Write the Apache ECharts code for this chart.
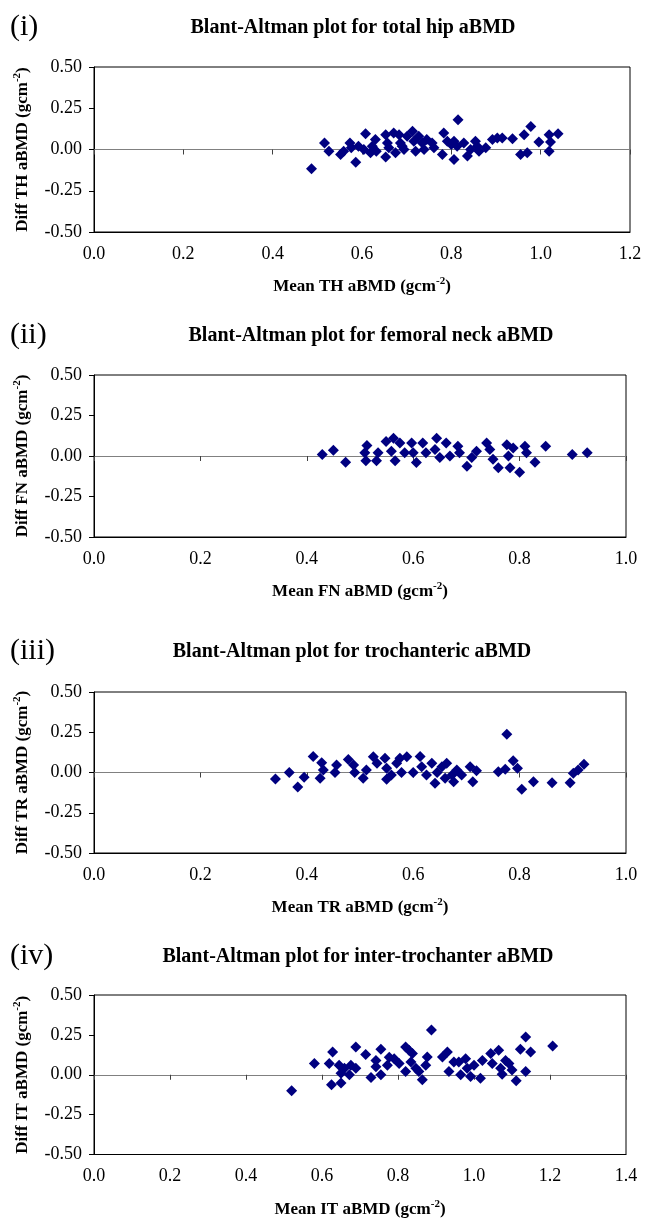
<!DOCTYPE html>
<html lang="en">
<head>
    <meta charset="utf-8">
    <title>Blant-Altman plots for hip aBMD</title>
    <script src="https://cdn.jsdelivr.net/npm/echarts@6/dist/echarts.min.js"></script>
    <style>html, body { margin: 0; padding: 0; background: #fff; }</style>
</head>

<body>
<div id="main" style="width: 651px;height:1219px"></div>

<script type="text/javascript">
    // panel labels, titles and site codes
    var panelLabels = ['(i)', '(ii)', '(iii)', '(iv)'];
    var panelTitles = [
        'Blant-Altman plot for total hip aBMD',
        'Blant-Altman plot for femoral neck aBMD',
        'Blant-Altman plot for trochanteric aBMD',
        'Blant-Altman plot for inter-trochanter aBMD'
    ];
    var siteCodes = ['TH', 'FN', 'TR', 'IT'];
    var xMax = [1.2, 1.0, 1.0, 1.4];

    // (i) total hip: mean, difference
    var thMean = [0.487, 0.516, 0.526, 0.552, 0.559, 0.573, 0.576, 0.586, 0.608, 0.604, 0.619, 0.630, 0.623, 0.653, 0.653, 0.657, 0.660, 0.671, 0.675, 0.683,
        0.686, 0.694, 0.701, 0.713, 0.716, 0.720, 0.727, 0.735, 0.739, 0.757, 0.761, 0.780, 0.783, 0.791, 0.806, 0.815, 0.806, 0.813, 0.828, 0.836,
        0.843, 0.854, 0.862, 0.877, 0.892, 0.903, 0.914, 0.937, 0.955, 0.963, 0.970, 0.978, 0.996, 1.019, 1.022, 1.019, 1.039,
        0.745, 0.690, 0.800, 0.858, 0.632, 0.592];
    var thDiff = [-0.116, 0.04, -0.01, -0.03, -0.01, 0.04, 0.01, -0.077, 0.095, 0.0, -0.02, 0.06, 0.02, 0.09, -0.045, 0.04, 0.01, 0.10, -0.02, 0.09,
        0.04, 0.0, 0.08, 0.11, 0.05, -0.01, 0.08, 0.04, 0.0, 0.04, 0.01, -0.03, 0.10, 0.05, -0.06, 0.18, 0.05, 0.02, 0.04, -0.04,
        0.0, 0.05, -0.01, 0.01, 0.06, 0.07, 0.07, 0.065, -0.03, 0.09, -0.02, 0.14, 0.045, 0.09, 0.045, -0.01, 0.095,
        0.06, 0.02, 0.03, 0.02, -0.01, 0.02];

    // (ii) femoral neck
    var fnMean = [0.429, 0.450, 0.473, 0.513, 0.509, 0.511, 0.531, 0.534, 0.549, 0.563, 0.559, 0.566, 0.575, 0.584, 0.597, 0.600, 0.606, 0.618, 0.624, 0.644,
        0.641, 0.650, 0.662, 0.669, 0.684, 0.687, 0.701, 0.710, 0.719, 0.738, 0.744, 0.750, 0.760, 0.776, 0.779, 0.782, 0.788, 0.800, 0.810, 0.813,
        0.829, 0.849, 0.899, 0.927];
    var fnDiff = [0.01, 0.036, -0.038, 0.065, 0.02, -0.03, -0.03, 0.02, 0.09, 0.11, 0.03, -0.03, 0.08, 0.02, 0.08, 0.02, -0.04, 0.08, 0.02, 0.11,
        0.04, -0.01, 0.08, 0.0, 0.06, 0.02, -0.063, -0.01, 0.03, 0.08, 0.04, -0.02, -0.073, 0.07, 0.0, -0.073, 0.05, -0.10, 0.06, 0.02,
        -0.038, 0.06, 0.01, 0.02];

    // (iii) trochanteric
    var trMean = [0.341, 0.367, 0.383, 0.395, 0.412, 0.425, 0.428, 0.431, 0.453, 0.456, 0.478, 0.488, 0.490, 0.506, 0.512, 0.525, 0.532, 0.547, 0.550, 0.550,
        0.559, 0.569, 0.575, 0.578, 0.588, 0.600, 0.613, 0.616, 0.625, 0.635, 0.641, 0.645, 0.654, 0.660, 0.663, 0.673, 0.676, 0.682, 0.691, 0.707,
        0.712, 0.719, 0.760, 0.773, 0.776, 0.788, 0.796, 0.804, 0.826, 0.861, 0.895, 0.901, 0.910, 0.921];
    var trDiff = [-0.04, 0.0, -0.09, -0.03, 0.10, -0.036, 0.06, 0.015, 0.0, 0.046, 0.08, 0.046, 0.0, -0.036, 0.015, 0.098, 0.057, 0.088, -0.042, 0.026,
        -0.015, 0.057, 0.088, 0.0, 0.098, 0.0, 0.10, 0.036, -0.015, 0.057, -0.067, 0.0, 0.036, -0.036, 0.057, -0.015, -0.057, 0.015, -0.015, 0.036,
        -0.057, 0.011, 0.005, 0.02, 0.238, 0.073, 0.026, -0.104, -0.057, -0.063, -0.063, -0.005, 0.015, 0.052];

    // (iv) inter-trochanter
    var itMean = [0.520, 0.580, 0.619, 0.628, 0.625, 0.650, 0.645, 0.650, 0.659, 0.672, 0.676, 0.689, 0.689, 0.715, 0.729, 0.742, 0.742, 0.755, 0.755, 0.772,
        0.777, 0.790, 0.803, 0.820, 0.820, 0.829, 0.834, 0.838, 0.847, 0.855, 0.864, 0.873, 0.877, 0.888, 0.917, 0.930, 0.934, 0.947, 0.960, 0.965,
        0.978, 0.982, 0.991, 1.000, 1.017, 1.022, 1.044, 1.048, 1.065, 1.070, 1.074, 1.083, 1.092, 1.100, 1.111, 1.122, 1.136, 1.136, 1.149, 1.207];
    var itDiff = [-0.10, 0.071, 0.071, 0.143, -0.063, -0.052, 0.06, 0.009, 0.04, 0.0, 0.06, 0.174, 0.04, 0.127, -0.017, 0.09, 0.05, 0.16, 0.0, 0.06,
        0.11, 0.10, 0.071, 0.02, 0.174, 0.153, 0.08, 0.133, 0.04, 0.02, -0.032, 0.06, 0.112, 0.281, 0.112, 0.143, 0.02, 0.08, 0.08, 0.0,
        0.10, 0.04, -0.011, 0.06, -0.022, 0.09, 0.133, 0.071, 0.153, 0.04, 0.003, 0.09, 0.071, 0.03, -0.038, 0.16, 0.236, 0.02, 0.143, 0.18];

    var means = [thMean, fnMean, trMean, itMean];
    var diffs = [thDiff, fnDiff, trDiff, itDiff];

    // layout
    var grids = [
        {left: 94, right: 21, top: 67, height: 165},
        {left: 94, right: 25, top: 375, height: 162},
        {left: 94, right: 25, top: 692, height: 161},
        {left: 94, right: 25, top: 995, height: 162}
    ];
    var titleY = [29, 337, 653, 958];
    var titleX = [353, 371, 352, 358];

    var font = "'Liberation Serif', 'Times New Roman', serif";
    var rich = {
        b: {fontFamily: font, fontWeight: 'bold', fontSize: 17, lineHeight: 22, color: '#000'},
        sup: {fontFamily: font, fontWeight: 'bold', fontSize: 11, lineHeight: 11, verticalAlign: 'top', color: '#000'}
    };

    var myChart = echarts.init(document.getElementById('main'));

    var option = {
        backgroundColor: '#fff',
        animation: false,
        title: [],
        grid: [],
        xAxis: [],
        yAxis: [],
        series: []
    };

    for (var i = 0; i < 4; i++) {
        option.title.push({
            text: panelLabels[i], left: 10, top: titleY[i] - 17, padding: 0,
            textStyle: {fontFamily: font, fontWeight: 'normal', fontSize: 30, color: '#000'}
        });
        option.title.push({
            text: panelTitles[i], left: titleX[i], top: titleY[i] - 11, padding: 0, textAlign: 'center',
            textStyle: {fontFamily: font, fontWeight: 'bold', fontSize: 20, color: '#000'}
        });

        option.grid.push({
            left: grids[i].left, right: grids[i].right, top: grids[i].top, height: grids[i].height,
            show: true, borderColor: '#000', borderWidth: 1, backgroundColor: '#fff'
        });

        // bottom axis carries the labels
        option.xAxis.push({
            type: 'value', gridIndex: i, position: 'bottom', min: 0, max: xMax[i], interval: 0.2,
            name: '{b|Mean ' + siteCodes[i] + ' aBMD (gcm}{sup|-2}{b|)}',
            nameLocation: 'middle', nameGap: 44,
            nameTextStyle: {rich: rich},
            axisLine: {onZero: false, lineStyle: {color: '#000', width: 1}},
            axisTick: {show: false},
            splitLine: {show: false},
            axisLabel: {
                margin: 13, fontFamily: font, fontSize: 18, color: '#000',
                formatter: function (v) { return v.toFixed(1); }
            }
        });
        // line through zero with ticks hanging below it
        option.xAxis.push({
            type: 'value', gridIndex: i, position: 'top', min: 0, max: xMax[i], interval: 0.2,
            axisLine: {onZero: true, lineStyle: {color: '#808080', width: 1}},
            axisTick: {show: true, inside: true, length: 5, lineStyle: {color: '#404040'}},
            axisLabel: {show: false},
            splitLine: {show: false}
        });

        option.yAxis.push({
            type: 'value', gridIndex: i, min: -0.5, max: 0.5, interval: 0.25,
            name: '{b|Diff ' + siteCodes[i] + ' aBMD (gcm}{sup|-2}{b|)}',
            nameLocation: 'middle', nameRotate: 90, nameGap: 60,
            nameTextStyle: {rich: rich},
            axisLine: {lineStyle: {color: '#000', width: 1}},
            axisTick: {show: true, length: 5, lineStyle: {color: '#000'}},
            splitLine: {show: false},
            axisLabel: {
                margin: 12, fontFamily: font, fontSize: 18, color: '#000',
                formatter: function (v) { return v.toFixed(2); }
            }
        });

        var pts = [];
        for (var k = 0; k < means[i].length; k++) {
            pts.push([means[i][k], diffs[i][k]]);
        }
        option.series.push({
            type: 'scatter', xAxisIndex: i * 2, yAxisIndex: i,
            symbol: 'diamond', symbolSize: 11,
            itemStyle: {color: '#000080', opacity: 1},
            data: pts
        });
    }

    option && myChart.setOption(option);
</script>
</body>
</html>
